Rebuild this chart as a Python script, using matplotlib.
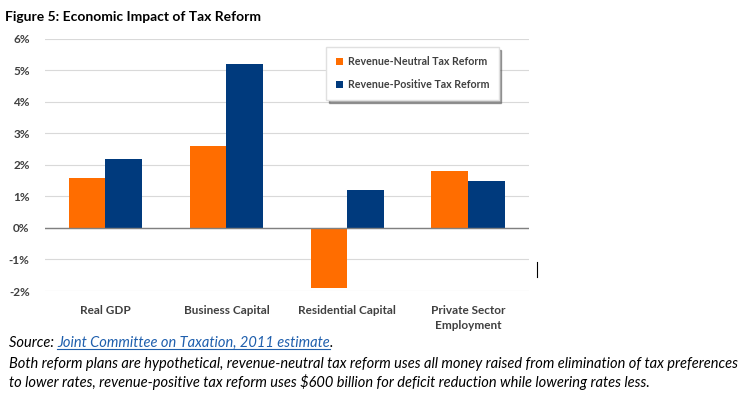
import matplotlib
matplotlib.use("Agg")
import matplotlib.pyplot as plt
import numpy as np

# ─────────────────────────────────────────────────────────────
# Donnees
# ─────────────────────────────────────────────────────────────
categories = ["Real GDP", "Business Capital", "Residential Capital",
              "Private Sector\nEmployment"]
revenue_neutral = [1.6, 2.6, -1.9, 1.8]
revenue_positive = [2.2, 5.2, 1.2, 1.5]
series_names = ["Revenue-Neutral Tax Reform", "Revenue-Positive Tax Reform"]
yticks = [-2, -1, 0, 1, 2, 3, 4, 5, 6]

ORANGE = "#FF6D00"
NAVY = "#003A7D"
FONT = "Lato"

plt.rcParams["font.family"] = [FONT, "DejaVu Sans"]

fig = plt.figure(figsize=(7.41, 3.97), dpi=100)
ax = fig.add_axes([0.0607, 0.267, 0.653, 0.635])

x = np.arange(len(categories))
w = 0.305
ax.bar(x - w / 2, revenue_neutral, w, color=ORANGE, label=series_names[0], zorder=3)
ax.bar(x + w / 2, revenue_positive, w, color=NAVY, label=series_names[1], zorder=3)

ax.set_xlim(-0.5, len(categories) - 0.5)
ax.set_ylim(-2, 6)
ax.set_yticks(yticks)
ax.set_yticklabels([f"{v}%" for v in yticks], fontsize=8.5, fontweight="bold",
                   color="#404040")
ax.set_xticks(x)
ax.set_xticklabels(categories, fontsize=8.5, fontweight="bold", color="#404040",
                   linespacing=1.5)
ax.tick_params(length=0)
ax.tick_params(axis="y", pad=11)
ax.tick_params(axis="x", pad=10)
ax.grid(axis="y", color="#d9d9d9", linewidth=0.8, zorder=0)
ax.axhline(0, color="#808080", linewidth=1.0, zorder=4)
for s in ax.spines.values():
    s.set_visible(False)

leg = ax.legend(loc="upper left", bbox_to_anchor=(0.57, 0.99), fontsize=7.7,
                frameon=True, fancybox=False, shadow=True, handlelength=0.7,
                handleheight=0.7, handletextpad=0.4, borderpad=0.9,
                labelspacing=1.1, edgecolor="#e0e0e0")
for t in leg.get_texts():
    t.set_fontweight("bold")
    t.set_color("#404040")

# Titre
fig.text(0.007, 0.957, "Figure 5: Economic Impact of Tax Reform", fontsize=10,
         fontweight="bold", ha="left", va="center")

# Petit trait vertical a droite
fig.add_artist(plt.Line2D([537 / 741, 537 / 741], [1 - 262 / 397, 1 - 277 / 397],
                          color="black", linewidth=0.8))

# Notes de bas de page
fs = 10.5
y1 = 1 - 343 / 397
t1 = fig.text(0.012, y1, "Source: ", fontsize=fs, style="italic", va="center")
fig.canvas.draw()
r = fig.canvas.get_renderer()
bb = t1.get_window_extent(r)
t2 = fig.text(bb.x1 / fig.bbox.width, y1, "Joint Committee on Taxation, 2011 estimate",
              fontsize=fs, style="italic", va="center", color="#1F5FAD")
fig.canvas.draw()
bb2 = t2.get_window_extent(r)
fig.text(bb2.x1 / fig.bbox.width, y1, ".", fontsize=fs, style="italic", va="center")
uy = (bb2.y0 + 1) / fig.bbox.height
fig.add_artist(plt.Line2D([bb2.x0 / fig.bbox.width, bb2.x1 / fig.bbox.width], [uy, uy],
                          color="#1F5FAD", linewidth=0.8))

fig.text(0.012, 1 - 364 / 397,
         "Both reform plans are hypothetical, revenue-neutral tax reform uses all money "
         "raised from elimination of tax preferences",
         fontsize=fs, style="italic", va="center")
fig.text(0.012, 1 - 382 / 397,
         "to lower rates, revenue-positive tax reform uses $600 billion for deficit "
         "reduction while lowering rates less.",
         fontsize=fs, style="italic", va="center")

fig.savefig("out.png", dpi=100)
